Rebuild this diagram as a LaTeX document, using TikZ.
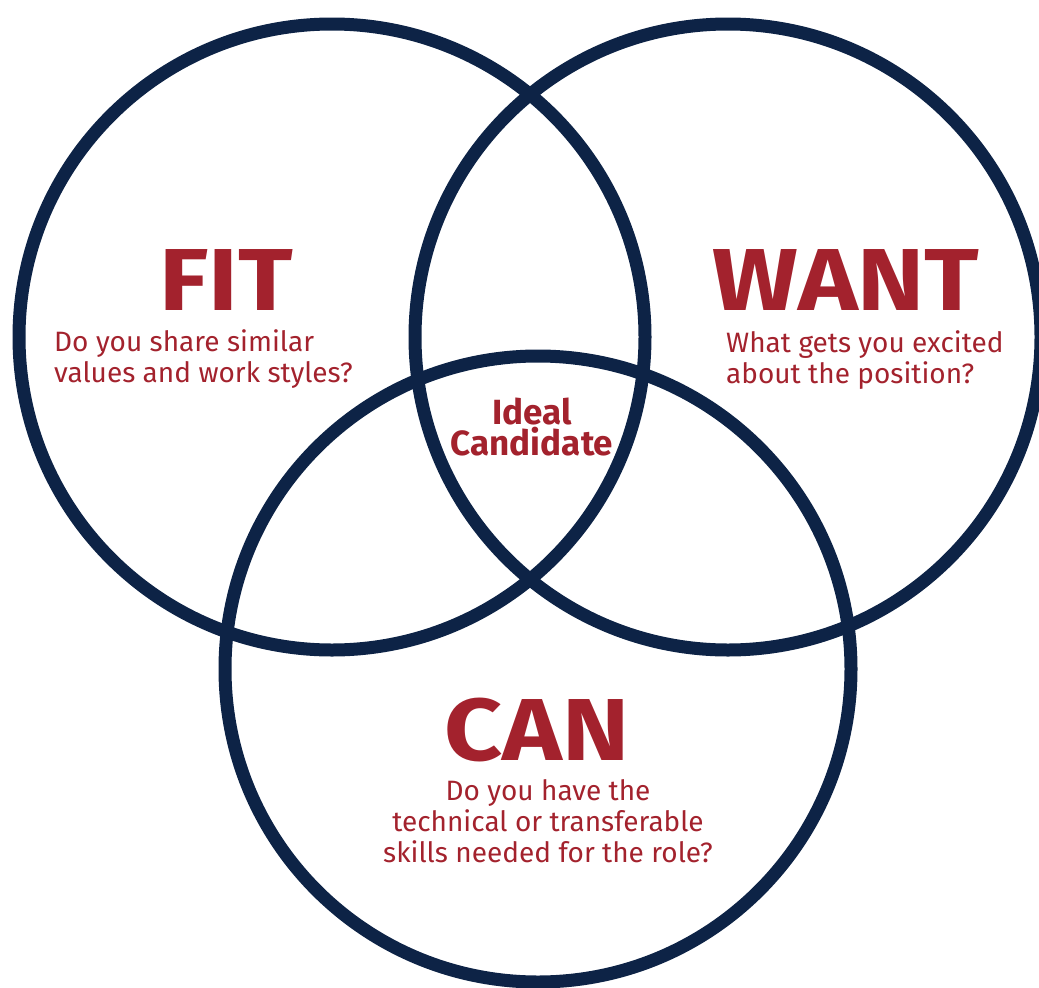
\documentclass[tikz,border=0pt]{standalone}
\usepackage{fontspec}
\setmainfont{Fira Sans}
\definecolor{navy}{HTML}{0D2346}
\definecolor{crimson}{HTML}{A3222D}
\newcommand{\widen}[1]{\scalebox{1.15}[1]{#1}}
\begin{document}
\begin{tikzpicture}[x=1pt,y=-1pt,
  ring/.style={draw=navy,line width=13pt},
  headword/.style={text=crimson,inner sep=0pt,text depth=0pt,font=\fontsize{88}{88}\selectfont\bfseries},
  question/.style={text=crimson,inner sep=0pt,font=\fontsize{28}{31}\selectfont,align=left},
  centre/.style={text=crimson,inner sep=0pt,text depth=0pt,text height=25pt,font=\fontsize{35}{35}\selectfont\bfseries}]
\useasboundingbox (0,0) rectangle (1039,988);
\clip (0,0) rectangle (1039,988);
% the three sets
\draw[ring] (332,337) circle[radius=313];
\draw[ring] (728,337) circle[radius=313];
\draw[ring] (538,669) circle[radius=313];
% labels of the sets (multi-line nodes sit on the baseline of their last line)
\node[headword,anchor=base] (fit) at (226,310) {\widen{FIT}};
\node[question,anchor=base west] (fitq) at (54,382) {Do you share similar\\values and work styles?};
\node[headword,anchor=base] (want) at (846,310) {\widen{WANT}};
\node[question,anchor=base west] (wantq) at (726,383) {What gets you excited\\about the position?};
\node[headword,anchor=base] (can) at (537,760) {\widen{CAN}};
\node[question,align=center,anchor=base] (canq) at (548,862) {Do you have the\\technical or transferable\\skills needed for the role?};
% the common centre of all three
\node[centre,anchor=base] (ideal) at (532,424) {Ideal};
\node[centre,anchor=base] (cand) at (532,455) {Candidate};
\end{tikzpicture}
\end{document}
